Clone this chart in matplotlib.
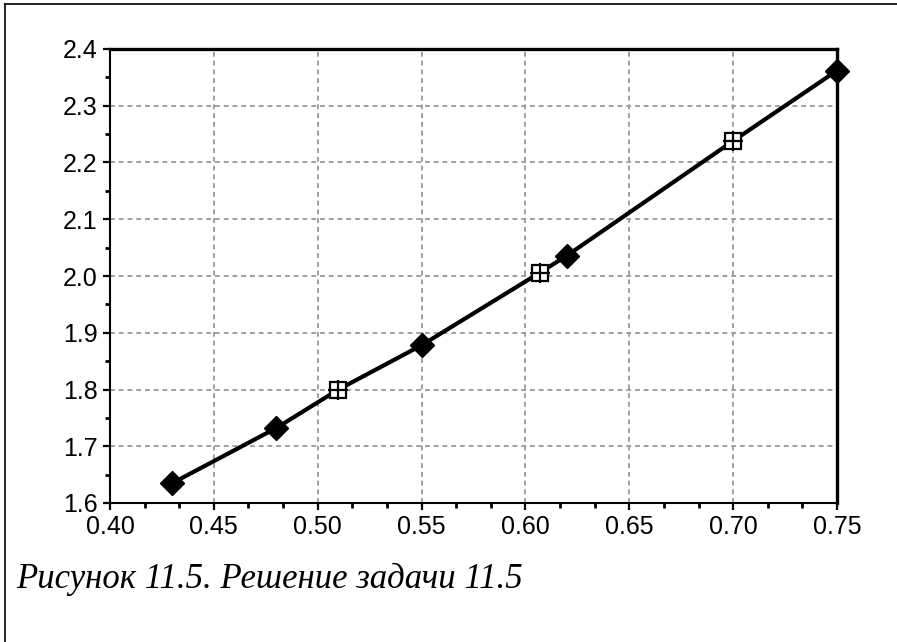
import matplotlib
matplotlib.use('Agg')
import matplotlib.pyplot as plt
from matplotlib.lines import Line2D
from matplotlib.ticker import MultipleLocator, FormatStrFormatter

# filled diamonds
x_filled = [0.43, 0.48, 0.55, 0.62, 0.75]
y_filled = [1.635, 1.732, 1.878, 2.036, 2.362]
# open squares with cross
x_open = [0.51, 0.607, 0.70]
y_open = [1.80, 2.006, 2.238]
caption = 'Рисунок 11.5. Решение задачи 11.5'

fig = plt.figure(figsize=(8.97, 6.42), dpi=100)
ax = fig.add_axes([110 / 897, 1 - 503 / 642, 727 / 897, 454 / 642])

# one line through all points in order of x
pts = sorted(zip(x_filled + x_open, y_filled + y_open))
ax.plot([p[0] for p in pts], [p[1] for p in pts], color='black', lw=3,
        zorder=3, clip_on=False)
ax.plot(x_filled, y_filled, linestyle='none', marker='D', ms=12,
        color='black', zorder=4, clip_on=False)
ax.plot(x_open, y_open, linestyle='none', marker='s', ms=12, mfc='white',
        mec='black', mew=1.6, zorder=5, clip_on=False)
ax.plot(x_open, y_open, linestyle='none', marker='+', ms=15, mec='black',
        mew=1.6, zorder=6, clip_on=False)

ax.set_xlim(0.40, 0.75)
ax.set_ylim(1.6, 2.4)
ax.xaxis.set_major_locator(MultipleLocator(0.05))
ax.xaxis.set_minor_locator(MultipleLocator(0.05 / 3))
ax.yaxis.set_major_locator(MultipleLocator(0.1))
ax.yaxis.set_minor_locator(MultipleLocator(0.05))
ax.xaxis.set_major_formatter(FormatStrFormatter('%.2f'))
ax.yaxis.set_major_formatter(FormatStrFormatter('%.1f'))

ax.grid(True, which='major', color='#a0a0a0', linestyle=(0, (2.5, 2)), lw=1.4)
ax.set_axisbelow(True)

ax.tick_params(which='major', direction='out', length=5, width=1.6,
               labelsize=18, pad=4, colors='black')
ax.tick_params(which='minor', direction='out', length=3.5, width=2)
for lab in ax.get_xticklabels() + ax.get_yticklabels():
    lab.set_fontfamily('Liberation Sans')

for side in ['left', 'bottom']:
    ax.spines[side].set_linewidth(1.5)
for side in ['top', 'right']:
    ax.spines[side].set_linewidth(2.4)

# frame lines of the figure (left and top)
fig.add_artist(Line2D([5 / 897, 5 / 897], [0, 1 - 4 / 642], color='black', lw=1.2))
fig.add_artist(Line2D([5 / 897, 1], [1 - 4 / 642, 1 - 4 / 642], color='black', lw=1.2))

fig.text(16 / 897, 1 - 588 / 642, caption, fontsize=25, fontstyle='italic',
         family='Liberation Serif', ha='left', va='baseline')

fig.savefig('out.png', dpi=100)
